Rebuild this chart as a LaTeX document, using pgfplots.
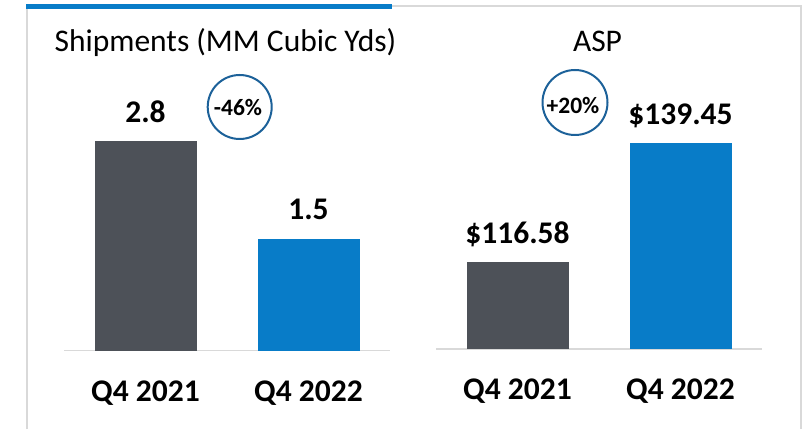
\documentclass[border=0pt]{standalone}
\usepackage{pgfplots}
\pgfplotsset{compat=1.18}
\usepackage{fontspec}
\setmainfont{Carlito}
\definecolor{bargray}{HTML}{4D5158}
\definecolor{barblue}{HTML}{087CC8}
\definecolor{framegray}{HTML}{D9D9D9}
\definecolor{circblue}{HTML}{1C6199}
\newcommand{\bigfont}{\fontsize{31.5}{36}\selectfont}
\newcommand{\pctfont}{\fontsize{23.5}{27}\selectfont}
\begin{document}
\begin{tikzpicture}
\path[use as bounding box] (0pt,0pt) rectangle (807pt,429pt);
% frame
\draw[line width=2pt, draw=framegray] (27pt,0pt) -- (27pt,423pt);
\draw[line width=2pt, draw=framegray] (392pt,423pt) -- (801pt,423pt) -- (801pt,0pt);
\draw[line width=4.5pt, draw=barblue] (26pt,422.7pt) -- (392pt,422.7pt);

\pgfplotsset{
  mybar/.style={
    scale only axis, width=326pt,
    xmin=-0.5, xmax=1.5,
    axis x line=bottom, axis y line=none,
    x axis line style={draw=framegray, line width=1.6pt, -},
    xtick={0,1}, xticklabels={Q4 2021,Q4 2022},
    major tick length=0pt,
    xticklabel style={font=\bigfont\bfseries, anchor=base, inner sep=0pt},
    ytick=\empty,
    ybar, bar width=102pt, bar shift=0pt,
    every node near coord/.append style={font=\bigfont\bfseries, anchor=base, inner sep=0pt, yshift=19pt, text=black},
  }
}

\begin{axis}[mybar, at={(64pt,78.5pt)}, anchor=south west,
  height=261.3pt, ymin=0, ymax=3.5,
  xticklabel style={yshift=-50.5pt},
  nodes near coords={\pgfmathprintnumber[fixed,precision=1,assume math mode=true]{\pgfplotspointmeta}}]
\addplot[fill=bargray, draw=none] coordinates {(0,2.8)};
\addplot[fill=barblue, draw=none] coordinates {(1,1.5)};
\end{axis}

\begin{axis}[mybar, at={(436pt,80.3pt)}, anchor=south west,
  height=260.2pt, ymin=100, ymax=150,
  xticklabel style={yshift=-51pt},
  nodes near coords={\$\pgfmathprintnumber[fixed,fixed zerofill,precision=2,assume math mode=true]{\pgfplotspointmeta}}]
\addplot[fill=bargray, draw=none] coordinates {(0,116.58)};
\addplot[fill=barblue, draw=none] coordinates {(1,139.45)};
\end{axis}

% titles
\node[anchor=base, inner sep=0pt, font=\bigfont] at (225.5pt,377pt) {Shipments (MM Cubic Yds)};
\node[anchor=base, inner sep=0pt, font=\bigfont] at (597.5pt,377.3pt) {ASP};

% change circles
\draw[circblue, line width=2pt] (239.7pt,322pt) circle (32pt);
\node[font=\pctfont\bfseries, inner sep=0pt] at (238pt,322pt) {-46\%};
\draw[circblue, line width=2pt] (575pt,326.5pt) circle (32.5pt);
\node[font=\pctfont\bfseries, inner sep=0pt] at (573pt,324pt) {+20\%};
\end{tikzpicture}
\end{document}
